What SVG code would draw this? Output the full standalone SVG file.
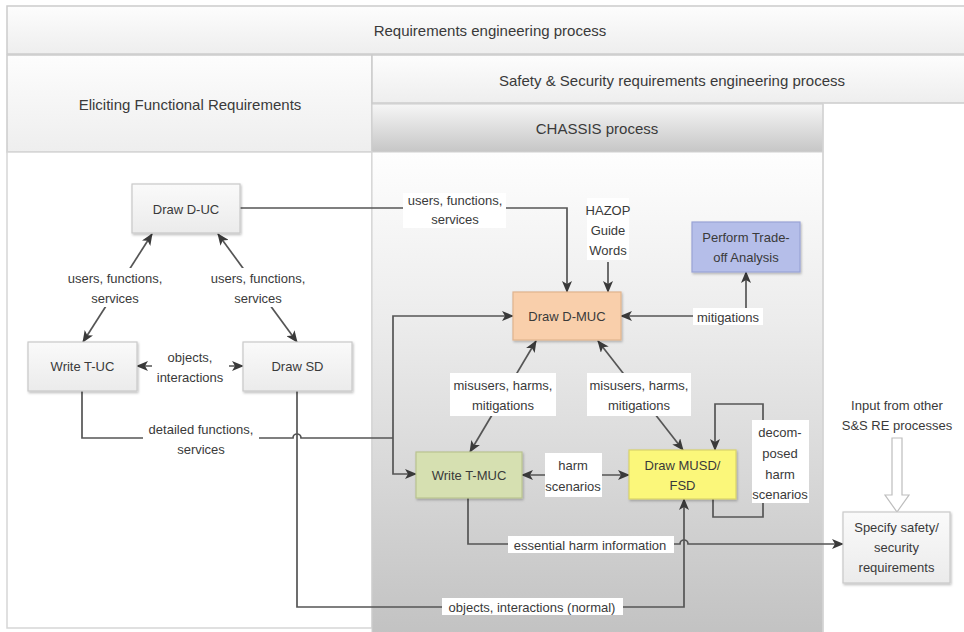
<svg xmlns="http://www.w3.org/2000/svg" width="964" height="632" viewBox="0 0 964 632">
  <defs>
    <linearGradient id="bandGrad" x1="0" y1="0" x2="0" y2="1">
      <stop offset="0" stop-color="#fdfdfd"/>
      <stop offset="1" stop-color="#eeeeee"/>
    </linearGradient>
    <linearGradient id="chassisHead" x1="0" y1="0" x2="0" y2="1">
      <stop offset="0" stop-color="#f6f6f6"/>
      <stop offset="1" stop-color="#c6c6c6"/>
    </linearGradient>
    <linearGradient id="chassisBody" x1="0" y1="0" x2="0" y2="1">
      <stop offset="0" stop-color="#fefefe"/>
      <stop offset="0.35" stop-color="#ececec"/>
      <stop offset="1" stop-color="#c2c2c2"/>
    </linearGradient>
    <linearGradient id="plainNode" x1="0" y1="0" x2="0" y2="1">
      <stop offset="0" stop-color="#fafafa"/>
      <stop offset="1" stop-color="#ebebeb"/>
    </linearGradient>
    <filter id="shadow" x="-10%" y="-10%" width="125%" height="130%">
      <feDropShadow dx="1" dy="1.5" stdDeviation="1.2" flood-color="#000" flood-opacity="0.25"/>
    </filter>
    <marker id="arrow" viewBox="0 0 12 10" refX="11" refY="5" markerWidth="12" markerHeight="10" markerUnits="userSpaceOnUse" orient="auto-start-reverse">
      <path d="M0 0 L12 5 L0 10 L3 5 Z" fill="#3a3a3a"/>
    </marker>
    <style>
      text { font-family: "Liberation Sans", Arial, sans-serif; fill: #3a3a3a; text-anchor: middle; dominant-baseline: central; }
      .head { font-size: 15px; }
      .node-label { font-size: 13px; }
      .edge-label { font-size: 13px; }
      .node rect { stroke-width: 1.2; filter: url(#shadow); }
      .plain rect { fill: url(#plainNode); stroke: #c9c9c9; }
      .conn { fill: none; stroke: #555555; stroke-width: 1.7; }
      .lblbg { fill: #ffffff; stroke: none; }
    </style>
  </defs>

  <!-- swimlane frame -->
  <g id="lanes">
    <rect x="0" y="0" width="964" height="632" fill="#ffffff"/>
    <rect x="7" y="6" width="960" height="48" fill="url(#bandGrad)" stroke="#cccccc" stroke-width="1.5"/>
    <rect x="7" y="55" width="365" height="97" fill="url(#bandGrad)" stroke="#cccccc" stroke-width="1.5"/>
    <rect x="372" y="55" width="595" height="48" fill="url(#bandGrad)" stroke="#cccccc" stroke-width="1.5"/>
    <rect x="372" y="104" width="451" height="48" fill="url(#chassisHead)" stroke="#cccccc" stroke-width="1"/>
    <rect x="7" y="152" width="365" height="476" fill="#ffffff" stroke="#d6d6d6" stroke-width="1.5"/>
    <rect x="372" y="152" width="451" height="484" fill="url(#chassisBody)" stroke="#d0d0d0" stroke-width="1"/>
    <line x1="823" y1="104" x2="823" y2="632" stroke="#d4d4d4" stroke-width="1.5"/>
    <text class="head" x="490" y="30">Requirements engineering process</text>
    <text class="head" x="190" y="104">Eliciting Functional Requirements</text>
    <text class="head" x="672" y="80">Safety &amp; Security requirements engineering process</text>
    <text class="head" x="597" y="128">CHASSIS process</text>
  </g>

  <!-- connectors -->
  <g id="connectors">
    <!-- Draw D-UC to Draw D-MUC -->
    <path class="conn" d="M240 208 H567 V292" marker-end="url(#arrow)"/>
    <!-- HAZOP guide words -->
    <path class="conn" d="M608 262 V292" marker-end="url(#arrow)"/>
    <!-- D-UC <-> T-UC -->
    <path class="conn" d="M152 234 L83 342" marker-start="url(#arrow)" marker-end="url(#arrow)"/>
    <!-- D-UC <-> SD -->
    <path class="conn" d="M218 234 L297 342" marker-start="url(#arrow)" marker-end="url(#arrow)"/>
    <!-- T-UC <-> SD -->
    <path class="conn" d="M137 366 H243" marker-start="url(#arrow)" marker-end="url(#arrow)"/>
    <!-- T-UC detailed functions to D-MUC and T-MUC (hop over SD line) -->
    <path class="conn" d="M82 391 V438 H293 A4 4 0 0 1 301 438 H393"/>
    <path class="conn" d="M393 438 V316 H513" marker-end="url(#arrow)"/>
    <path class="conn" d="M393 438 V474 H416" marker-end="url(#arrow)"/>
    <!-- SD objects, interactions (normal) to MUSD -->
    <path class="conn" d="M297 391 V607 H684 V499" marker-end="url(#arrow)"/>
    <!-- T-MUC essential harm information to Specify (hop over MUSD line) -->
    <path class="conn" d="M468 498 V544 H680 A4 4 0 0 1 688 544 H843" marker-end="url(#arrow)"/>
    <!-- D-MUC <-> T-MUC -->
    <path class="conn" d="M536 341 L470 452" marker-start="url(#arrow)" marker-end="url(#arrow)"/>
    <!-- D-MUC <-> MUSD -->
    <path class="conn" d="M598 341 L683 450" marker-start="url(#arrow)" marker-end="url(#arrow)"/>
    <!-- T-MUC <-> MUSD -->
    <path class="conn" d="M522 475 H629" marker-start="url(#arrow)" marker-end="url(#arrow)"/>
    <!-- MUSD self loop -->
    <path class="conn" d="M713 499 V517 H763 V404 H715 V450" marker-end="url(#arrow)"/>
    <!-- mitigations -->
    <path class="conn" d="M746 316 H621" marker-end="url(#arrow)"/>
    <path class="conn" d="M746 316 V272" marker-end="url(#arrow)"/>
    <!-- input from other processes (hollow arrow) -->
    <polygon points="892,438 902,438 902,495 909,495 897,512 885,495 892,495" fill="#ffffff" stroke="#bdbdbd" stroke-width="1.2"/>

    <!-- connector labels -->
    <rect class="lblbg" x="403" y="193" width="103" height="35"/>
    <text class="edge-label" x="455" y="200">users, functions,</text>
    <text class="edge-label" x="455" y="219">services</text>

    <rect class="lblbg" x="587" y="198" width="42" height="62"/>
    <text class="edge-label" x="608" y="210">HAZOP</text>
    <text class="edge-label" x="608" y="230">Guide</text>
    <text class="edge-label" x="608" y="250">Words</text>

    <rect class="lblbg" x="63" y="268" width="104" height="39"/>
    <text class="edge-label" x="115" y="278">users, functions,</text>
    <text class="edge-label" x="115" y="298">services</text>

    <rect class="lblbg" x="206" y="268" width="104" height="39"/>
    <text class="edge-label" x="258" y="278">users, functions,</text>
    <text class="edge-label" x="258" y="298">services</text>

    <rect class="lblbg" x="152" y="347" width="77" height="39"/>
    <text class="edge-label" x="190" y="357">objects,</text>
    <text class="edge-label" x="190" y="377">interactions</text>

    <rect class="lblbg" x="143" y="419" width="116" height="40"/>
    <text class="edge-label" x="201" y="429">detailed functions,</text>
    <text class="edge-label" x="201" y="449">services</text>

    <rect class="lblbg" x="450" y="373" width="106" height="43"/>
    <text class="edge-label" x="503" y="385">misusers, harms,</text>
    <text class="edge-label" x="503" y="405">mitigations</text>

    <rect class="lblbg" x="587" y="373" width="104" height="43"/>
    <text class="edge-label" x="639" y="385">misusers, harms,</text>
    <text class="edge-label" x="639" y="405">mitigations</text>

    <rect class="lblbg" x="545" y="453" width="57" height="44"/>
    <text class="edge-label" x="573" y="465">harm</text>
    <text class="edge-label" x="573" y="486">scenarios</text>

    <rect class="lblbg" x="752" y="420" width="57" height="83"/>
    <text class="edge-label" x="780" y="432">decom-</text>
    <text class="edge-label" x="780" y="453">posed</text>
    <text class="edge-label" x="780" y="474">harm</text>
    <text class="edge-label" x="780" y="494">scenarios</text>

    <rect class="lblbg" x="693" y="308" width="70" height="17"/>
    <text class="edge-label" x="728" y="317">mitigations</text>

    <rect class="lblbg" x="508" y="536" width="166" height="17"/>
    <text class="edge-label" x="590" y="545">essential harm information</text>

    <rect class="lblbg" x="442" y="598" width="181" height="17"/>
    <text class="edge-label" x="532" y="607">objects, interactions (normal)</text>

    <text class="edge-label" x="897" y="405">Input from other</text>
    <text class="edge-label" x="897" y="425">S&amp;S RE processes</text>
  </g>

  <!-- nodes -->
  <g id="draw-d-uc" class="node plain">
    <rect x="132" y="184" width="108" height="49"/>
    <text class="node-label" x="186" y="209">Draw D-UC</text>
  </g>
  <g id="write-t-uc" class="node plain">
    <rect x="28" y="342" width="109" height="49"/>
    <text class="node-label" x="82.5" y="366">Write T-UC</text>
  </g>
  <g id="draw-sd" class="node plain">
    <rect x="243" y="342" width="109" height="49"/>
    <text class="node-label" x="297.5" y="366">Draw SD</text>
  </g>
  <g id="draw-d-muc" class="node">
    <rect x="513" y="292" width="108" height="48" fill="#f9cfab" stroke="#e0b48e"/>
    <text class="node-label" x="567" y="316">Draw D-MUC</text>
  </g>
  <g id="trade-off" class="node">
    <rect x="692" y="222" width="108" height="50" fill="#b5bee9" stroke="#99a3d6"/>
    <text class="node-label" x="746" y="237">Perform Trade-</text>
    <text class="node-label" x="746" y="257">off Analysis</text>
  </g>
  <g id="write-t-muc" class="node">
    <rect x="416" y="452" width="106" height="46" fill="#d6e0b1" stroke="#b9c38f"/>
    <text class="node-label" x="469" y="475">Write T-MUC</text>
  </g>
  <g id="draw-musd-fsd" class="node">
    <rect x="629" y="450" width="107" height="49" fill="#fbf77a" stroke="#d9d36a"/>
    <text class="node-label" x="682.5" y="465">Draw MUSD/</text>
    <text class="node-label" x="682.5" y="485">FSD</text>
  </g>
  <g id="specify-requirements" class="node plain">
    <rect x="843" y="512" width="107" height="71"/>
    <text class="node-label" x="896.5" y="527">Specify safety/</text>
    <text class="node-label" x="896.5" y="547">security</text>
    <text class="node-label" x="896.5" y="567">requirements</text>
  </g>
</svg>
